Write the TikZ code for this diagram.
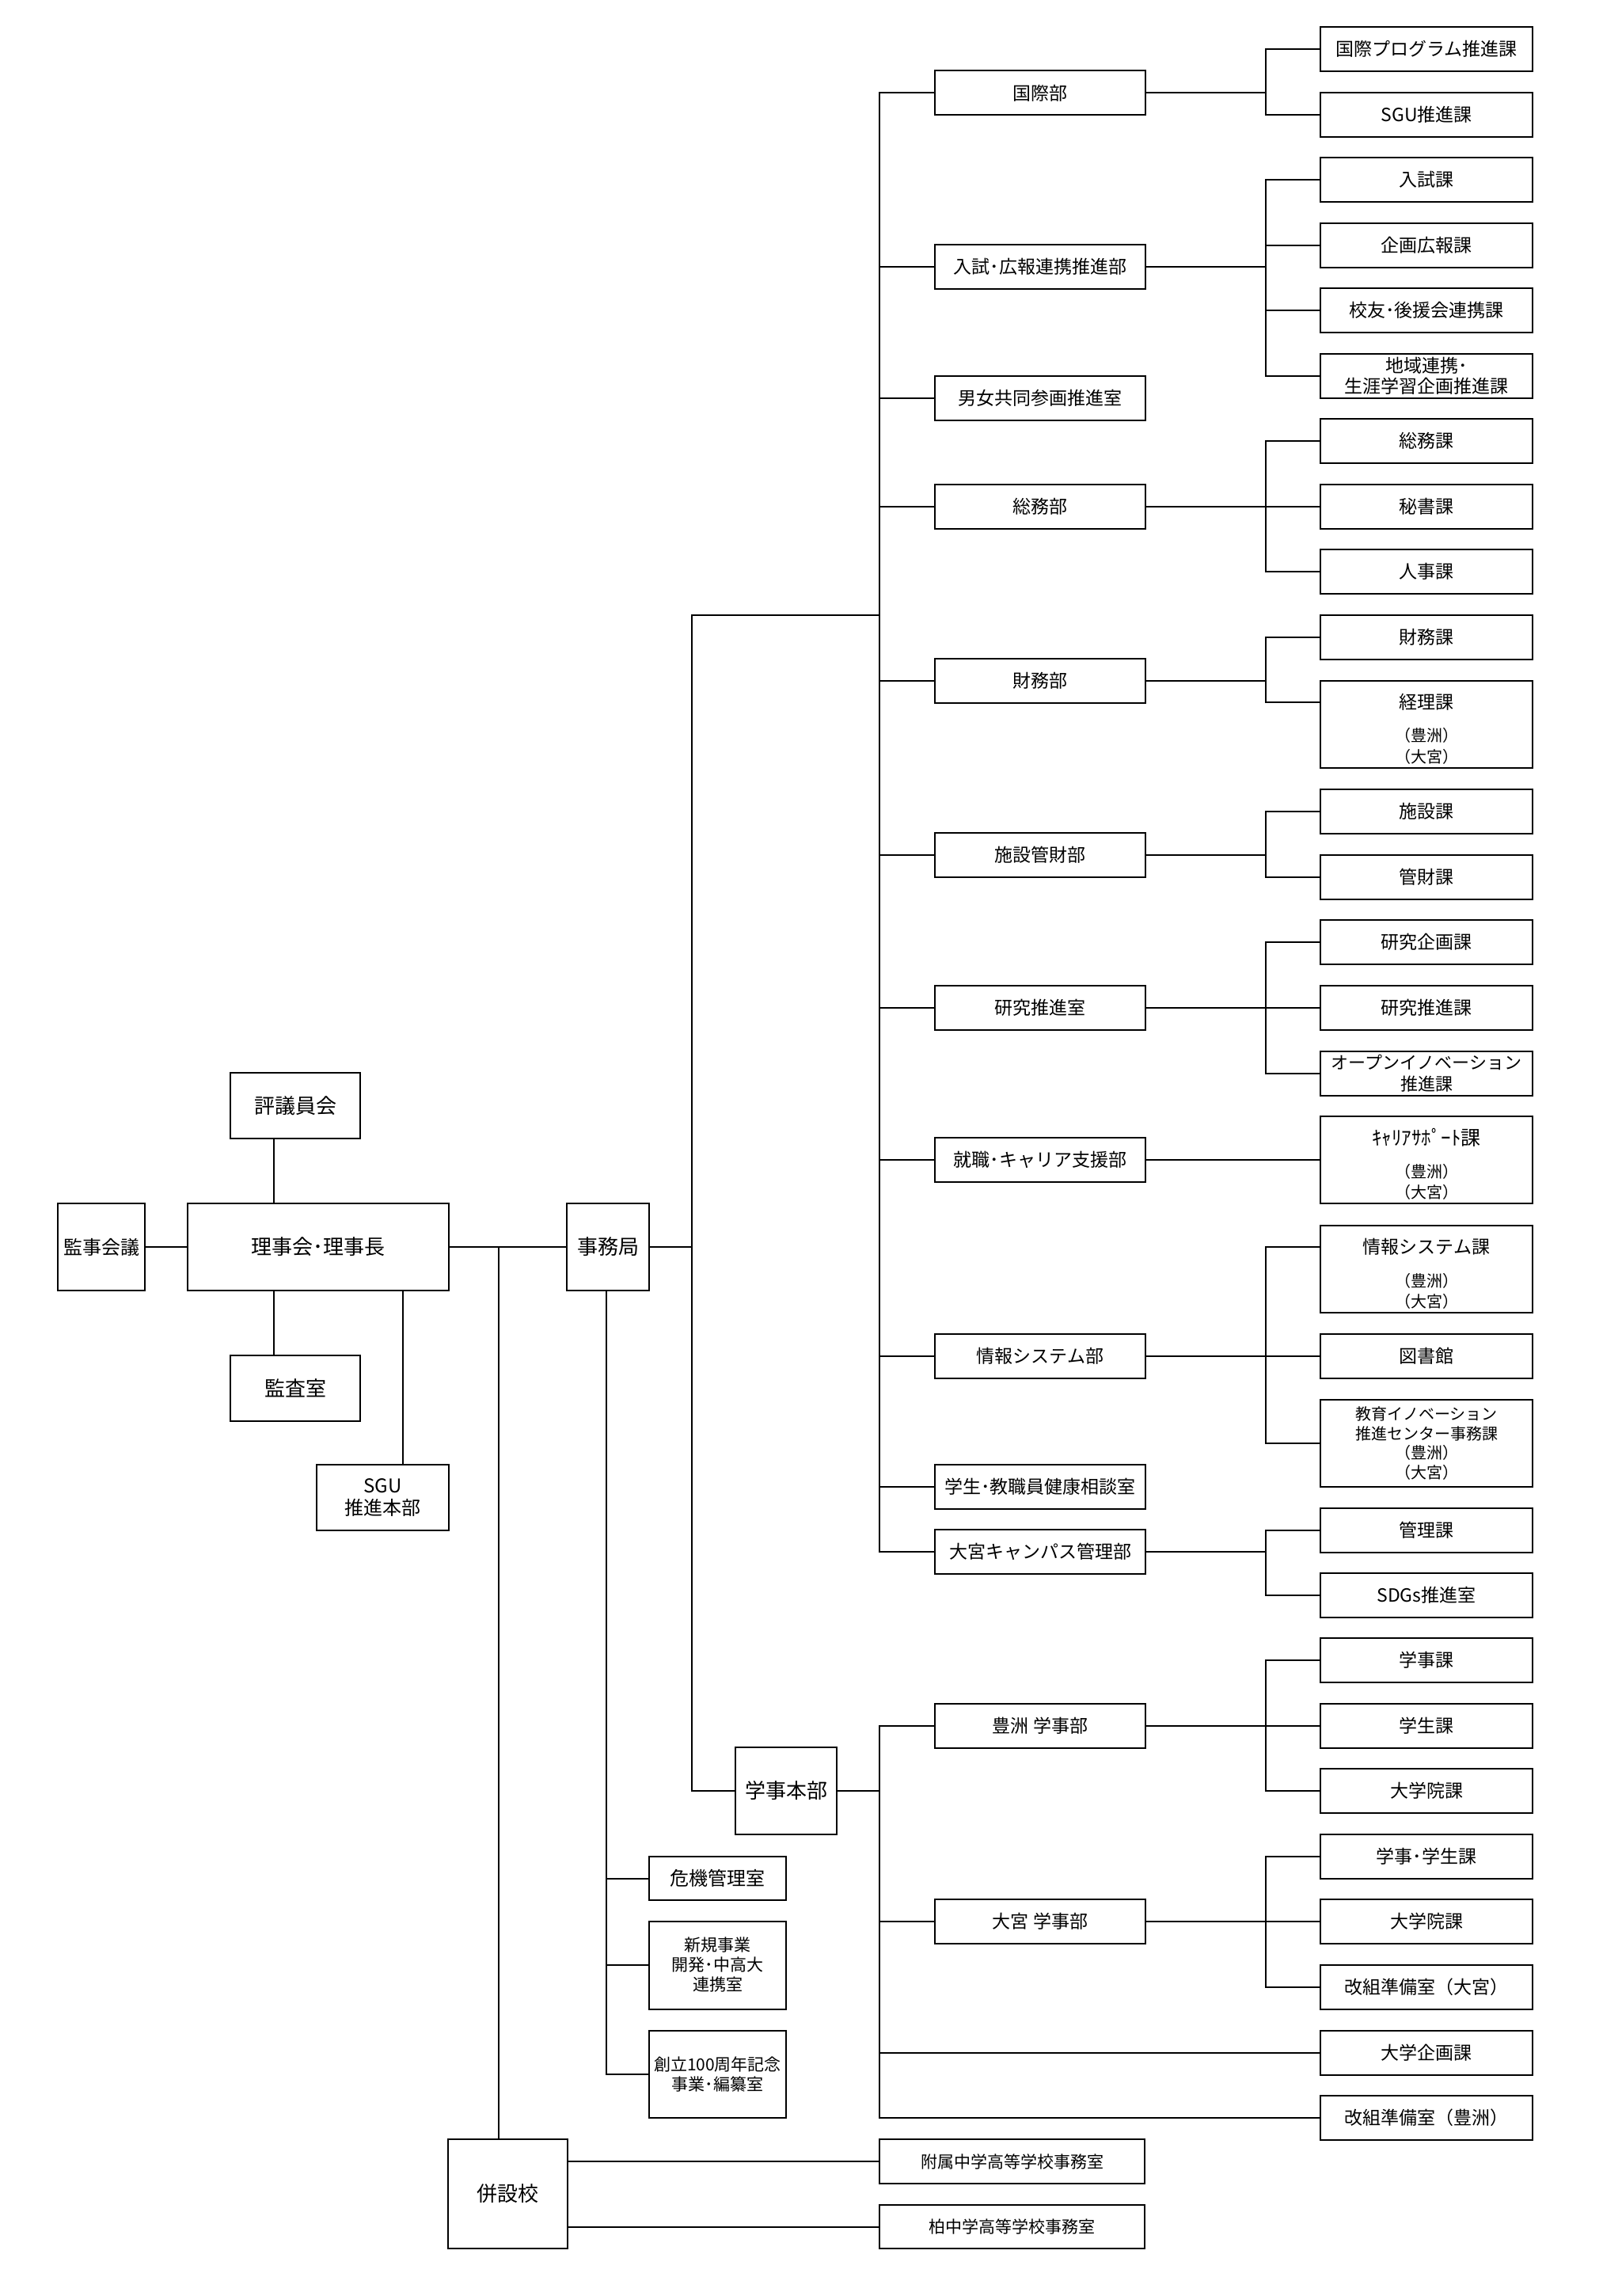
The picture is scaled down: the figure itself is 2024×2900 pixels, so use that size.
\documentclass[tikz,border=0pt]{standalone}
\usepackage{fontspec}
\setmainfont{Noto Sans CJK JP}
\begin{document}
\begin{tikzpicture}[x=0.5pt,y=-0.5pt,
  box/.style={draw, line width=1pt, inner sep=0pt, align=center},
  fa/.style={font=\fontsize{13}{15}\selectfont},
  fb/.style={font=\fontsize{12}{13.75}\selectfont},
  fc/.style={font=\fontsize{11.5}{13}\selectfont},
  fd/.style={font=\fontsize{10.5}{12.5}\selectfont},
  fe/.style={font=\fontsize{10}{11}\selectfont},
  dept/.style={box, fc, minimum width=133pt, minimum height=28pt},
  sec/.style={box, fc, minimum width=134pt, minimum height=28pt},
  tallsec/.style={box, minimum width=134pt, minimum height=55pt},
  lbl/.style={inner sep=0pt, align=center},
  conn/.style={line width=1pt, line cap=rect},
]
\useasboundingbox (0,0) rectangle (2024,2900);

% helper coordinates (x positions of vertical lines)
\coordinate (jx) at (346,0);
\coordinate (sx) at (509,0);
\coordinate (hx) at (630,0);
\coordinate (kx) at (766,0);
\coordinate (jtop) at (874,777);
\coordinate (tr) at (1111,0);
\coordinate (br) at (1599,0);

% ---------- left part ----------
\node[box,fa,minimum width=82pt,minimum height=41.5pt] (hyogi) at (373,1396.5) {評議員会};
\node[box,fa,minimum width=165pt,minimum height=55pt] (riji) at (402,1575) {理事会･理事長};
\node[box,fb,minimum width=55pt,minimum height=55pt] (kanji) at (128,1575) {監事会議};
\node[box,fa,minimum width=82pt,minimum height=41.5pt] (kansa) at (373,1753.5) {監査室};
\node[box,fb,minimum width=83.5pt,minimum height=41.5pt] (sgu) at (483.5,1891.5) {SGU\\推進本部};
\node[box,fa,minimum width=52pt,minimum height=55pt] (jimu) at (768,1575) {事務局};
\node[box,fa,minimum width=64pt,minimum height=55pt] (gakuji) at (993,2262) {学事本部};
\node[box,fb,minimum width=86.5pt,minimum height=27.5pt] (kiki) at (906.5,2372.5) {危機管理室};
\node[box,fd,minimum width=86.5pt,minimum height=55.5pt] (shinki) at (906.5,2482) {新規事業\\開発･中高大\\連携室};
\node[box,fd,minimum width=86.5pt,minimum height=55pt] (soritsu) at (906.5,2620) {創立100周年記念\\事業･編纂室};
\node[box,fa,minimum width=75.5pt,minimum height=69pt] (heisetsu) at (641.5,2771) {併設校};
\node[box,fd,minimum width=167.5pt,minimum height=28pt] (fuzoku) at (1278.5,2730) {附属中学高等学校事務室};
\node[box,fd,minimum width=167.5pt,minimum height=27.5pt] (kashiwa) at (1278.5,2812.5) {柏中学高等学校事務室};

% ---------- departments ----------
\node[dept] (d1) at (1314,117.5) {国際部};
\node[dept] (d2) at (1314,337) {入試･広報連携推進部};
\node[dept] (d3) at (1314,503) {男女共同参画推進室};
\node[dept] (d4) at (1314,640) {総務部};
\node[dept] (d5) at (1314,860) {財務部};
\node[dept] (d6) at (1314,1080) {施設管財部};
\node[dept] (d7) at (1314,1273) {研究推進室};
\node[dept] (d8) at (1314,1465) {就職･キャリア支援部};
\node[dept] (d9) at (1314,1713) {情報システム部};
\node[dept] (d10) at (1314,1878) {学生･教職員健康相談室};
\node[dept] (d11) at (1314,1960) {大宮キャンパス管理部};
\node[dept] (d12) at (1314,2180) {豊洲 学事部};
\node[dept] (d13) at (1314,2427) {大宮 学事部};

% ---------- sections ----------
\node[sec] (s1) at (1802,62) {国際プログラム推進課};
\node[sec] (s2) at (1802,145) {SGU推進課};
\node[sec] (s3) at (1802,227) {入試課};
\node[sec] (s4) at (1802,310) {企画広報課};
\node[sec] (s5) at (1802,392) {校友･後援会連携課};
\node[sec] (s6) at (1802,474.5) {地域連携･\\生涯学習企画推進課};
\node[sec] (s7) at (1802,557) {総務課};
\node[sec] (s8) at (1802,640) {秘書課};
\node[sec] (s9) at (1802,722) {人事課};
\node[sec] (s10) at (1802,805) {財務課};
\node[tallsec] (s11) at (1802,915) {};
\node[lbl,fc] (s11t) at (1802,887) {経理課};
\node[lbl,fe] (s11a) at (1802,929) {（豊洲）};
\node[lbl,fe] (s11b) at (1802,956) {（大宮）};
\node[sec] (s12) at (1802,1025) {施設課};
\node[sec] (s13) at (1802,1108) {管財課};
\node[sec] (s14) at (1802,1190) {研究企画課};
\node[sec] (s15) at (1802,1273) {研究推進課};
\node[sec,font=\fontsize{11}{13.5}\selectfont] (s16) at (1802,1356) {オープンイノベーション\\推進課};
\node[tallsec] (s17) at (1802,1465) {};
\node[lbl,font=\fontsize{12.5}{14}\selectfont] (s17t) at (1802,1437) {ｷｬﾘｱｻﾎﾟｰﾄ課};
\node[lbl,fe] (s17a) at (1802,1480) {（豊洲）};
\node[lbl,fe] (s17b) at (1802,1506) {（大宮）};
\node[tallsec] (s18) at (1802,1602.5) {};
\node[lbl,fc] (s18t) at (1802,1575) {情報システム課};
\node[lbl,fe] (s18a) at (1802,1617.5) {（豊洲）};
\node[lbl,fe] (s18b) at (1802,1643.5) {（大宮）};
\node[sec] (s19) at (1802,1713) {図書館};
\node[tallsec,font=\fontsize{10}{12.3}\selectfont] (s20) at (1802,1823) {教育イノベーション\\推進センター事務課\\（豊洲）\\（大宮）};
\node[sec] (s21) at (1802,1933) {管理課};
\node[sec] (s22) at (1802,2014.5) {SDGs推進室};
\node[sec] (s23) at (1802,2097) {学事課};
\node[sec] (s24) at (1802,2180) {学生課};
\node[sec] (s25) at (1802,2262) {大学院課};
\node[sec] (s26) at (1802,2345) {学事･学生課};
\node[sec] (s27) at (1802,2427) {大学院課};
\node[sec] (s28) at (1802,2510) {改組準備室（大宮）};
\node[sec] (s29) at (1802,2592.5) {大学企画課};
\node[sec] (s30) at (1802,2675) {改組準備室（豊洲）};

% ---------- connectors: left ----------
\draw[conn] (kanji.east) -- (riji.west);
\draw[conn] (hyogi.south -| jx) -- (riji.north -| jx);
\draw[conn] (riji.south -| jx) -- (kansa.north -| jx);
\draw[conn] (riji.south -| sx) -- (sgu.north -| sx);
\draw[conn] (riji.east) -- (jimu.west);
\draw[conn] (riji.east -| hx) -- (heisetsu.north -| hx);
\draw[conn] (jimu.south -| kx) -- (soritsu.west -| kx);
\foreach \n in {kiki,shinki,soritsu} \draw[conn] (\n.west -| kx) -- (\n.west);
\draw[conn] (heisetsu.east |- fuzoku.west) -- (fuzoku.west);
\draw[conn] (heisetsu.east |- kashiwa.west) -- (kashiwa.west);

% ---------- connectors: 事務局 ----------
\draw[conn] (jimu.east) -- (jimu.east -| jtop);
\draw[conn] (jtop) -- (gakuji.west -| jtop) -- (gakuji.west);
\draw[conn] (jtop) -- (jtop -| tr);
\draw[conn] (d1.west -| tr) -- (d11.west -| tr);
\foreach \n in {d1,d2,d3,d4,d5,d6,d7,d8,d9,d10,d11} \draw[conn] (\n.west -| tr) -- (\n.west);

% ---------- connectors: 学事本部 ----------
\draw[conn] (gakuji.east) -- (gakuji.east -| tr);
\draw[conn] (d12.west -| tr) -- (s30.west -| tr);
\foreach \n in {d12,d13} \draw[conn] (\n.west -| tr) -- (\n.west);
\foreach \n in {s29,s30} \draw[conn] (\n.west -| tr) -- (\n.west);

% ---------- connectors: department branches ----------
% 国際部
\draw[conn] (d1.east) -- (d1.east -| br);
\draw[conn] (s1.west -| br) -- (s2.west -| br);
\foreach \n in {s1,s2} \draw[conn] (\n.west -| br) -- (\n.west);
% 入試・広報
\draw[conn] (d2.east) -- (d2.east -| br);
\draw[conn] (s3.west -| br) -- (s6.west -| br);
\foreach \n in {s3,s4,s5,s6} \draw[conn] (\n.west -| br) -- (\n.west);
% 総務部
\draw[conn] (d4.east) -- (d4.east -| br);
\draw[conn] (s7.west -| br) -- (s9.west -| br);
\foreach \n in {s7,s8,s9} \draw[conn] (\n.west -| br) -- (\n.west);
% 財務部
\draw[conn] (d5.east) -- (d5.east -| br);
\draw[conn] (s10.west -| br) -- (s11t -| br);
\draw[conn] (s10.west -| br) -- (s10.west);
\draw[conn] (s11t -| br) -- (s11t -| s11.west);
% 施設管財部
\draw[conn] (d6.east) -- (d6.east -| br);
\draw[conn] (s12.west -| br) -- (s13.west -| br);
\foreach \n in {s12,s13} \draw[conn] (\n.west -| br) -- (\n.west);
% 研究推進室
\draw[conn] (d7.east) -- (d7.east -| br);
\draw[conn] (s14.west -| br) -- (s16.west -| br);
\foreach \n in {s14,s15,s16} \draw[conn] (\n.west -| br) -- (\n.west);
% 就職・キャリア支援部
\draw[conn] (d8.east) -- (s17.west);
% 情報システム部
\draw[conn] (d9.east) -- (d9.east -| br);
\draw[conn] (s18t -| br) -- (s20.west -| br);
\draw[conn] (s18t -| br) -- (s18t -| s18.west);
\foreach \n in {s19,s20} \draw[conn] (\n.west -| br) -- (\n.west);
% 大宮キャンパス管理部
\draw[conn] (d11.east) -- (d11.east -| br);
\draw[conn] (s21.west -| br) -- (s22.west -| br);
\foreach \n in {s21,s22} \draw[conn] (\n.west -| br) -- (\n.west);
% 豊洲 学事部
\draw[conn] (d12.east) -- (d12.east -| br);
\draw[conn] (s23.west -| br) -- (s25.west -| br);
\foreach \n in {s23,s24,s25} \draw[conn] (\n.west -| br) -- (\n.west);
% 大宮 学事部
\draw[conn] (d13.east) -- (d13.east -| br);
\draw[conn] (s26.west -| br) -- (s28.west -| br);
\foreach \n in {s26,s27,s28} \draw[conn] (\n.west -| br) -- (\n.west);
\end{tikzpicture}
\end{document}
